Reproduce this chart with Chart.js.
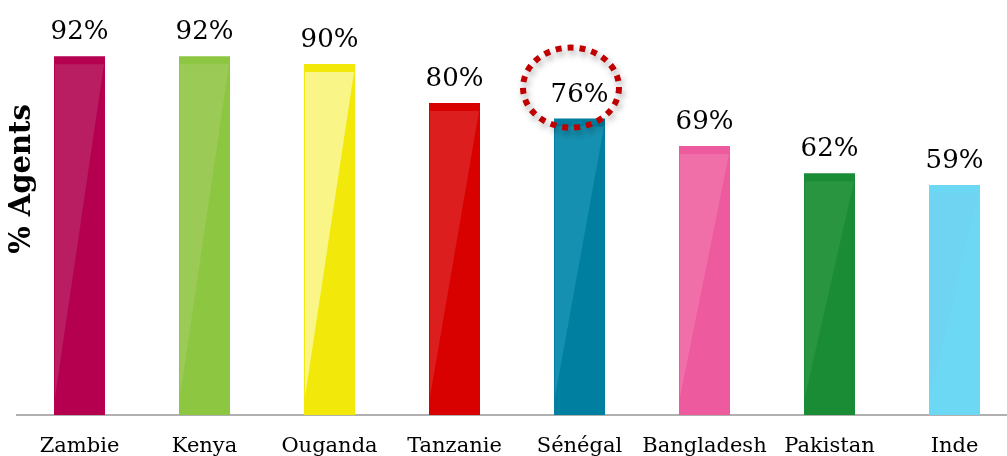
<!DOCTYPE html>
<html>
<head>
<meta charset="utf-8">
<script src="https://cdn.jsdelivr.net/npm/chart.js@4.4.1/dist/chart.umd.min.js"></script>
<style>
  html, body { margin: 0; padding: 0; background: #fff; overflow: hidden; }
  #wrap { width: 1007px; height: 456px; overflow: hidden; position: relative; }
  canvas { display: block; }
</style>
</head>
<body>
<div id="wrap"><canvas id="c" width="1017" height="456" style="width:1017px;height:456px"></canvas></div>
<script>
// ---- data ----
const categories = ['Zambie', 'Kenya', 'Ouganda', 'Tanzanie', 'Sénégal', 'Bangladesh', 'Pakistan', 'Inde'];
const values = [92, 92, 90, 80, 76, 69, 62, 59];
const valueLabels = ['92%', '92%', '90%', '80%', '76%', '69%', '62%', '59%'];
const yTitle = '% Agents';
const highlightIndex = 4;

// ---- styles ----
const baseColors = ['#b5004f', '#8dc641', '#f2e90a', '#d90000', '#007fa0', '#ee5a9e', '#1b8c36', '#6dd8f4'];
const glossColors = ['#b91d62', '#9bcb56', '#f9f586', '#dd1e1e', '#1590b0', '#f06fa9', '#2a9540', '#6fd4f2'];

const glossPlugin = {
  id: 'gloss',
  afterDatasetsDraw(chart) {
    const ctx = chart.ctx;
    const meta = chart.getDatasetMeta(0);
    meta.data.forEach((bar, i) => {
      const p = bar.getProps(['x', 'y', 'base', 'width'], true);
      const left = p.x - p.width / 2, right = p.x + p.width / 2;
      const top = p.y + 8, bottom = p.base - 18;
      ctx.save();
      ctx.fillStyle = glossColors[i];
      ctx.beginPath();
      ctx.moveTo(left + 1, top);
      ctx.lineTo(right - 1, top);
      ctx.lineTo(left + 1, bottom);
      ctx.closePath();
      ctx.fill();
      ctx.restore();
    });
  }
};

const labelPlugin = {
  id: 'valLabels',
  afterDraw(chart) {
    const ctx = chart.ctx;
    const meta = chart.getDatasetMeta(0);
    ctx.save();
    ctx.font = '26px "DejaVu Serif"';
    ctx.fillStyle = '#000';
    ctx.textAlign = 'center';
    ctx.textBaseline = 'alphabetic';
    meta.data.forEach((bar, i) => {
      ctx.fillText(valueLabels[i], bar.x, bar.y - 17);
    });
    ctx.restore();

    // highlight ellipse
    const hb = meta.data[highlightIndex];
    ctx.save();
    ctx.strokeStyle = '#c00000';
    ctx.lineWidth = 6;
    ctx.setLineDash([6, 6]);
    ctx.shadowColor = 'rgba(0,0,0,0.35)';
    ctx.shadowBlur = 6;
    ctx.shadowOffsetX = 2;
    ctx.shadowOffsetY = 4;
    ctx.beginPath();
    ctx.ellipse(hb.x - 8.5, hb.y - 31, 48, 40, 0, 0, Math.PI * 2);
    ctx.stroke();
    ctx.restore();

    // y axis title
    ctx.save();
    ctx.font = 'bold 29px "DejaVu Serif"';
    ctx.fillStyle = '#000';
    ctx.textAlign = 'center';
    ctx.textBaseline = 'middle';
    ctx.translate(22, 179);
    ctx.rotate(-Math.PI / 2);
    ctx.fillText(yTitle, 0, 0);
    ctx.restore();
  }
};

new Chart(document.getElementById('c'), {
  type: 'bar',
  data: {
    labels: categories,
    datasets: [{
      data: values,
      backgroundColor: baseColors,
      borderWidth: 0,
      barPercentage: 0.408,
      categoryPercentage: 1.0
    }]
  },
  options: {
    responsive: false,
    animation: false,
    devicePixelRatio: 1,
    layout: { padding: { left: 17, top: 25, right: 0, bottom: 0 } },
    plugins: { legend: { display: false }, tooltip: { enabled: false }, title: { display: false } },
    scales: {
      x: {
        grid: { display: false, drawTicks: false },
        border: { display: true, color: '#b0b0b0', width: 2 },
        ticks: {
          color: '#000',
          font: { family: '"DejaVu Serif"', size: 21 },
          padding: 19,
          maxRotation: 0,
          autoSkip: false
        },
        afterFit(scale) { scale.height = 41; }
      },
      y: {
        display: false,
        min: 0,
        max: 100
      }
    }
  },
  plugins: [glossPlugin, labelPlugin]
});
</script>
</body>
</html>
